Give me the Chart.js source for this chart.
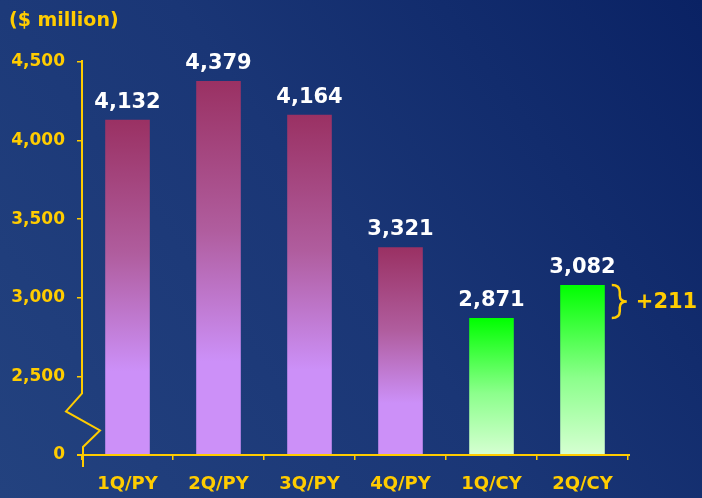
<!DOCTYPE html>
<html>
<head>
<meta charset="utf-8">
<script src="https://cdn.jsdelivr.net/npm/chart.js@4"></script>
<style>
  html, body { margin: 0; padding: 0; }
  #wrap { width: 702px; height: 498px; position: relative; }
</style>
</head>
<body>
<div id="wrap"><canvas id="revenueChart"></canvas></div>
<script>
const categories = ["1Q/PY", "2Q/PY", "3Q/PY", "4Q/PY", "1Q/CY", "2Q/CY"];
const revenue = [4132, 4379, 4164, 3321, 2871, 3082];
const isCurrentYear = [false, false, false, false, true, true];
const unitLabel = "($ million)";
const deltaLabel = "+211";
const axisBase = 2000; // shown as "0" because of the axis break

const YELLOW = "#ffcc00";
const FONT = "'DejaVu Sans', Verdana, sans-serif";

// gradient for each bar, from its top down to the axis
function barColor(ctx) {
  const chart = ctx.chart;
  const area = chart.chartArea;
  const cur = isCurrentYear[ctx.dataIndex];
  if (!area || !chart.scales.y) return cur ? "#40ff40" : "#b070c0";
  const top = chart.scales.y.getPixelForValue(revenue[ctx.dataIndex]);
  const g = chart.ctx.createLinearGradient(0, top, 0, area.bottom);
  if (cur) {
    g.addColorStop(0, "#00ff00");
    g.addColorStop(0.55, "#8cff8c");
    g.addColorStop(1, "#d6ffd2");
  } else {
    g.addColorStop(0, "#9a3163");
    g.addColorStop(0.4, "#b05d9e");
    g.addColorStop(0.75, "#cc90f8");
    g.addColorStop(1, "#cc90f8");
  }
  return g;
}

const decorations = {
  id: "decorations",
  beforeDraw(chart) {
    const c = chart.ctx;
    const g = c.createLinearGradient(0, chart.height, chart.width, 0);
    g.addColorStop(0, "#23427f");
    g.addColorStop(0.5, "#1a3676");
    g.addColorStop(1, "#0a2264");
    c.save();
    c.fillStyle = g;
    c.fillRect(0, 0, chart.width, chart.height);
    c.restore();
  },
  afterDraw(chart) {
    const c = chart.ctx;
    const area = chart.chartArea;
    const y = chart.scales.y;
    const x0 = area.left;
    c.save();
    c.strokeStyle = YELLOW;
    c.lineWidth = 2;
    // y axis with break
    const y2500 = y.getPixelForValue(2500);
    const yb = area.bottom;
    c.beginPath();
    c.moveTo(x0, area.top - 2);
    c.lineTo(x0, y2500 + 17);
    c.lineTo(x0 - 16, y2500 + 35);
    c.lineTo(x0 + 18, y2500 + 54);
    c.lineTo(x0 + 1, yb - 8);
    c.lineTo(x0 + 1, yb + 12);
    c.stroke();
    // x axis line
    c.beginPath();
    c.moveTo(x0 - 5, yb);
    c.lineTo(area.right + 2, yb);
    c.stroke();

    // value labels
    const meta = chart.getDatasetMeta(0);
    c.fillStyle = "#ffffff";
    c.font = "bold 21px " + FONT;
    c.textAlign = "center";
    c.textBaseline = "alphabetic";
    meta.data.forEach((bar, i) => {
      c.fillText(revenue[i].toLocaleString("en-US"), bar.x, bar.y - 12);
    });

    // brace showing the quarter-on-quarter change
    const last = meta.data[meta.data.length - 1];
    const bx = last.x + last.width / 2 + 7;
    const yTop = y.getPixelForValue(revenue[5]);
    const yBot = y.getPixelForValue(revenue[4]);
    const yMid = (yTop + yBot) / 2;
    c.strokeStyle = YELLOW;
    c.lineWidth = 2.5;
    c.beginPath();
    c.moveTo(bx, yTop);
    c.quadraticCurveTo(bx + 8, yTop, bx + 8, yTop + 7);
    c.lineTo(bx + 8, yMid - 6);
    c.quadraticCurveTo(bx + 8, yMid, bx + 15, yMid);
    c.quadraticCurveTo(bx + 8, yMid, bx + 8, yMid + 6);
    c.lineTo(bx + 8, yBot - 7);
    c.quadraticCurveTo(bx + 8, yBot, bx, yBot);
    c.stroke();
    c.fillStyle = YELLOW;
    c.font = "bold 21px " + FONT;
    c.textAlign = "left";
    c.textBaseline = "middle";
    c.fillText(deltaLabel, bx + 24, yMid + 1);

    // unit label
    c.font = "bold 19px " + FONT;
    c.textBaseline = "alphabetic";
    c.fillText(unitLabel, 9, 26);
    c.restore();
  }
};

new Chart(document.getElementById("revenueChart"), {
  type: "bar",
  data: {
    labels: categories,
    datasets: [
      {
        data: revenue,
        backgroundColor: barColor,
        borderWidth: 0,
        categoryPercentage: 1,
        barPercentage: 0.49
      }
    ]
  },
  options: {
    responsive: true,
    maintainAspectRatio: false,
    animation: false,
    layout: { padding: { top: 62, right: 74, left: 0, bottom: 0 } },
    plugins: {
      legend: { display: false },
      tooltip: { enabled: false }
    },
    scales: {
      x: {
        afterFit: scale => { scale.height = 43; },
        border: { display: false },
        grid: {
          drawOnChartArea: false,
          color: YELLOW,
          lineWidth: 1.5,
          tickLength: 5
        },
        ticks: {
          color: YELLOW,
          font: { family: FONT, size: 18, weight: "bold" },
          padding: 14
        }
      },
      y: {
        min: axisBase,
        max: 4500,
        afterFit: scale => { scale.width = 82; },
        border: { display: false },
        grid: {
          drawOnChartArea: false,
          color: YELLOW,
          lineWidth: 1.5,
          tickLength: 5
        },
        ticks: {
          stepSize: 500,
          color: YELLOW,
          font: { family: FONT, size: 17, weight: "bold" },
          padding: 12,
          callback: v => (v === axisBase ? "0" : v.toLocaleString("en-US"))
        }
      }
    }
  },
  plugins: [decorations]
});
</script>
</body>
</html>
